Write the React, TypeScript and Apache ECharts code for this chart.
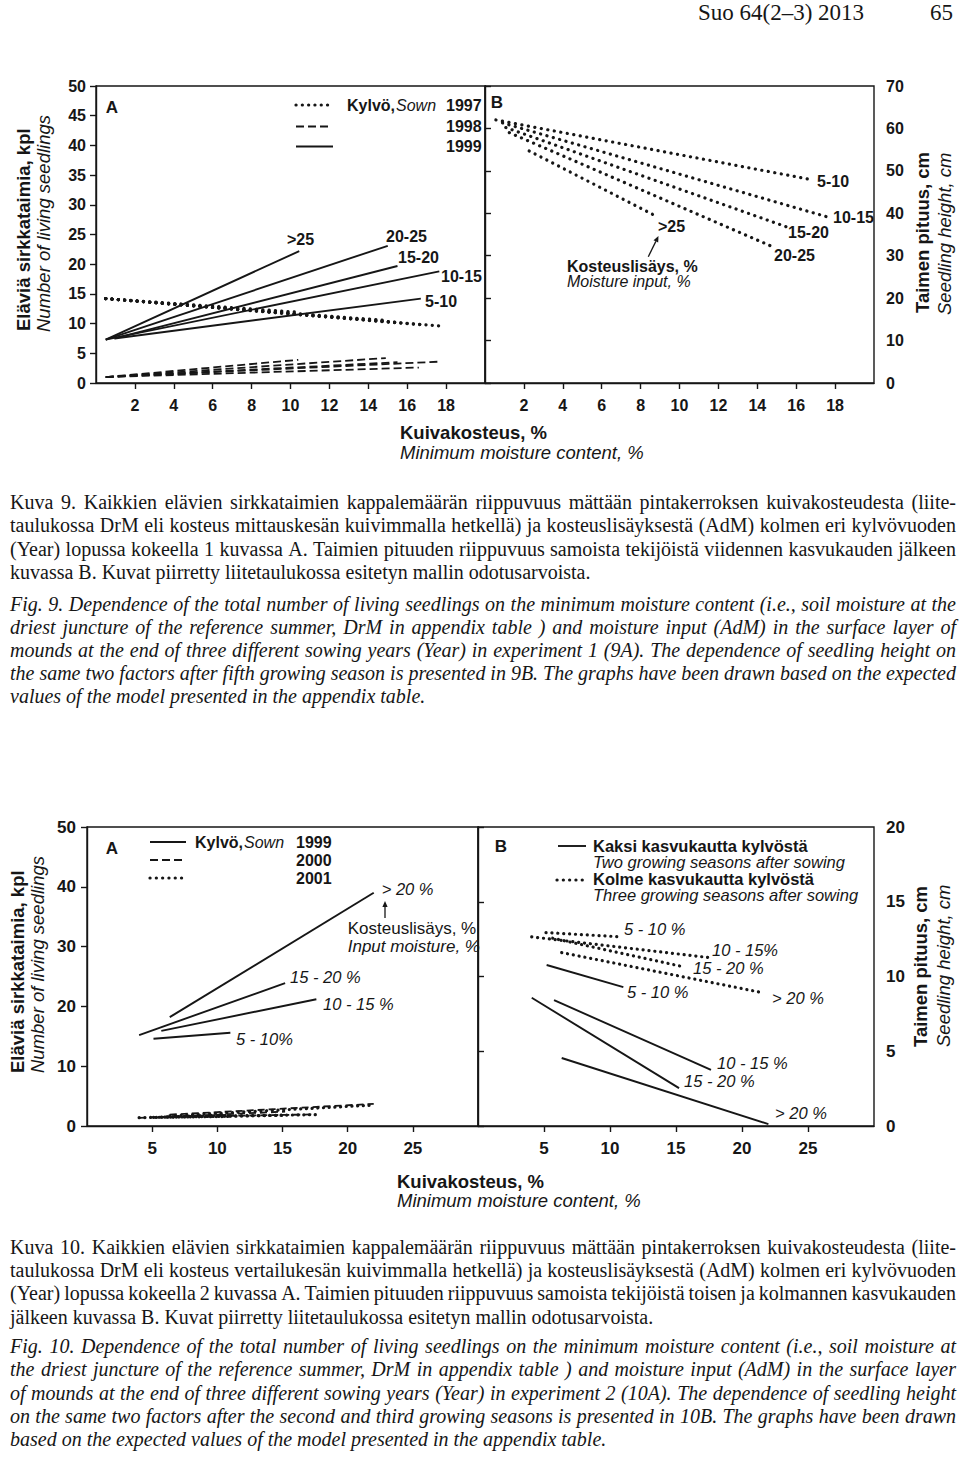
import React, { useEffect, useRef } from 'react';
import * as echarts from 'echarts';

// ---------------- Data ----------------
// Figure 9, panel A: x = minimum moisture content (%), y = number of living seedlings
const fig9XTicks = [0, 2, 4, 6, 8, 10, 12, 14, 16, 18, 20];
const fig9AYTicks = [0, 5, 10, 15, 20, 25, 30, 35, 40, 45, 50];
const fig9BYTicks = [0, 10, 20, 30, 40, 50, 60, 70];
const fig9Classes = ['>25', '20-25', '15-20', '10-15', '5-10'];
const fig9Years = ['1997', '1998', '1999'];

// sown 1999 (solid), order of fig9Classes
const f9A_1999 = [
  [[0.5, 7.3], [10.45, 22.2]],
  [[0.5, 7.3], [15.0, 23.1]],
  [[0.95, 7.5], [15.5, 19.7]],
  [[0.5, 7.3], [17.65, 18.8]],
  [[0.95, 7.5], [16.7, 14.2]],
];
// sown 1998 (dashed)
const f9A_1998 = [
  [[0.5, 1.0], [10.4, 3.9]],
  [[0.5, 1.0], [14.9, 4.2]],
  [[0.5, 1.0], [15.5, 3.5]],
  [[0.5, 1.0], [17.7, 3.6]],
  [[0.5, 1.0], [16.6, 2.6]],
];
// sown 1997 (dotted)
const f9A_1997 = [
  [[0.5, 14.2], [10.45, 11.9]],
  [[0.5, 14.2], [15.0, 10.5]],
  [[0.5, 14.2], [15.5, 10.2]],
  [[0.5, 14.2], [17.65, 9.6]],
  [[0.5, 14.2], [16.7, 9.8]],
];
// Figure 9, panel B: seedling height (cm) after fifth growing season
const f9B_height = [
  [[2.27, 54.7], [8.85, 39.2]],
  [[1.25, 59.0], [14.8, 32.1]],
  [[1.07, 60.2], [15.5, 36.8]],
  [[0.9, 61.3], [17.56, 39.2]],
  [[0.56, 62.0], [16.7, 48.0]],
];

// Figure 10
const fig10XTicks = [0, 5, 10, 15, 20, 25, 30];
const fig10AYTicks = [0, 10, 20, 30, 40, 50];
const fig10BYTicks = [0, 5, 10, 15, 20];
const fig10Classes = ['> 20 %', '15 - 20 %', '10 - 15 %', '5 - 10 %'];
const fig10Years = ['1999', '2000', '2001'];

// panel A, sown 1999 (solid), order of fig10Classes
const f10A_1999 = [
  [[6.35, 18.2], [22.0, 39.0]],
  [[4.0, 15.2], [15.2, 23.9]],
  [[5.7, 15.9], [17.6, 21.2]],
  [[5.1, 14.6], [11.0, 15.6]],
];
// sown 2000 (dashed)
const f10A_2000 = [
  [[6.35, 1.9], [22.0, 3.7]],
  [[4.0, 1.35], [15.2, 2.4]],
  [[5.7, 1.5], [17.6, 1.95]],
  [[5.1, 1.4], [11.0, 1.9]],
];
// sown 2001 (dotted)
const f10A_2001 = [
  [[6.35, 1.7], [22.0, 3.5]],
  [[4.0, 1.4], [15.2, 1.8]],
  [[5.7, 1.5], [17.6, 1.9]],
  [[5.1, 1.45], [11.0, 1.6]],
];
// panel B: two growing seasons after sowing (solid)
const f10B_two = [
  [[6.34, 4.55], [22.0, 0.13]],
  [[4.07, 8.58], [15.23, 2.53]],
  [[5.76, 8.42], [17.65, 3.76]],
  [[5.2, 10.77], [11.01, 9.29]],
];
// three growing seasons after sowing (dotted)
const f10B_three = [
  [[6.34, 11.6], [21.6, 8.91]],
  [[5.66, 12.56], [15.3, 10.7]],
  [[4.07, 12.65], [17.45, 11.27]],
  [[5.15, 12.94], [10.88, 12.65]],
];

// Captions
const kuva9 = [
  'Kuva 9. Kaikkien elävien sirkkataimien kappalemäärän riippuvuus mättään pintakerroksen kuivakosteudesta (liite-',
  'taulukossa DrM eli kosteus mittauskesän kuivimmalla hetkellä) ja kosteuslisäyksestä (AdM) kolmen eri kylvövuoden',
  '(Year) lopussa kokeella 1 kuvassa A. Taimien pituuden riippuvuus samoista tekijöistä viidennen kasvukauden jälkeen',
  'kuvassa B. Kuvat piirretty liitetaulukossa esitetyn mallin odotusarvoista.',
];
const fig9Caption = [
  'Fig. 9. Dependence of the total number of living seedlings on the minimum moisture content (i.e., soil moisture at the',
  'driest juncture of the reference summer, DrM in appendix table ) and moisture input (AdM) in the surface layer of',
  'mounds at the end of three different sowing years (Year) in experiment 1 (9A). The dependence of seedling height on',
  'the same two factors after fifth growing season is presented in 9B. The graphs have been drawn based on the expected',
  'values of the model presented in the appendix table.',
];
const kuva10 = [
  'Kuva 10. Kaikkien elävien sirkkataimien kappalemäärän riippuvuus mättään pintakerroksen kuivakosteudesta (liite-',
  'taulukossa DrM eli kosteus vertailukesän kuivimmalla hetkellä) ja kosteuslisäyksestä (AdM) kolmen eri kylvövuoden',
  '(Year) lopussa kokeella 2 kuvassa A. Taimien pituuden riippuvuus samoista tekijöistä toisen ja kolmannen kasvukauden',
  'jälkeen kuvassa B. Kuvat piirretty liitetaulukossa esitetyn mallin odotusarvoista.',
];
const fig10Caption = [
  'Fig. 10. Dependence of the total number of living seedlings on the minimum moisture content (i.e., soil moisture at',
  'the driest juncture of the reference summer, DrM in appendix table ) and moisture input (AdM) in the surface layer',
  'of mounds at the end of three different sowing years (Year) in experiment 2 (10A). The dependence of seedling height',
  'on the same two factors after the second and third growing seasons is presented in 10B. The graphs have been drawn',
  'based on the expected values of the model presented in the appendix table.',
];

// ---------------- Styles ----------------
const INK = '#161616';
const SANS = '"Liberation Sans", Arial, sans-serif';
const SERIF = '"Liberation Serif", "Times New Roman", serif';
const CAP_LEFT = 10;
const CAP_RIGHT = 956;
const CAP_SIZE = 20;
const DOT_W = 3.2;

let measureCtx: CanvasRenderingContext2D | null = null;
function measure(text: string, font: string): number {
  if (!measureCtx) measureCtx = document.createElement('canvas').getContext('2d');
  measureCtx!.font = font;
  return measureCtx!.measureText(text).width;
}

function txt(x: number, y: number, text: string, o: any = {}) {
  return {
    type: 'text',
    x,
    y,
    rotation: o.rotation || 0,
    z: 100,
    silent: true,
    style: {
      text,
      fontFamily: o.family || SANS,
      fontSize: o.size || 16,
      fontWeight: o.weight || 'normal',
      fontStyle: o.style || 'normal',
      fill: INK,
      align: o.align || 'left',
      verticalAlign: o.valign || 'middle',
    },
  };
}

function captionLine(text: string, y: number, italic: boolean, justify: boolean) {
  const fontStyle = italic ? 'italic' : 'normal';
  if (!justify) {
    return [txt(CAP_LEFT, y, text, { family: SERIF, size: CAP_SIZE, style: fontStyle })];
  }
  const font = `${italic ? 'italic ' : ''}${CAP_SIZE}px "Liberation Serif"`;
  const words = text.split(' ');
  const widths = words.map((w) => measure(w, font));
  const total = widths.reduce((a, b) => a + b, 0);
  const gap = (CAP_RIGHT - CAP_LEFT - total) / (words.length - 1);
  let x = CAP_LEFT;
  return words.map((w, i) => {
    const el = txt(x, y, w, { family: SERIF, size: CAP_SIZE, style: fontStyle });
    x += widths[i] + gap;
    return el;
  });
}

function caption(lines: string[], y0: number, step: number, italic: boolean) {
  const out: any[] = [];
  lines.forEach((l, i) => {
    out.push(...captionLine(l, y0 + i * step, italic, i < lines.length - 1));
  });
  return out;
}

function seg(x1: number, y1: number, x2: number, y2: number, kind: string) {
  const style: any = { stroke: INK, lineWidth: 1.9, lineCap: 'butt' };
  if (kind === 'dash') { style.lineDash = [8, 4]; style.lineWidth = 1.8; }
  if (kind === 'dot') { style.lineDash = [0.1, 6.2]; style.lineWidth = DOT_W; style.lineCap = 'round'; }
  return { type: 'line', z: 100, silent: true, shape: { x1, y1, x2, y2 }, style };
}

function arrow(x1: number, y1: number, x2: number, y2: number) {
  const dx = x2 - x1, dy = y2 - y1;
  const len = Math.hypot(dx, dy);
  const ux = dx / len, uy = dy / len;
  const px = -uy, py = ux;
  const bx = x2 - ux * 6, by = y2 - uy * 6;
  return [
    { type: 'line', z: 100, silent: true, shape: { x1, y1, x2: bx, y2: by }, style: { stroke: INK, lineWidth: 1.3 } },
    {
      type: 'polygon', z: 100, silent: true,
      shape: { points: [[x2, y2], [bx + px * 2.6, by + py * 2.6], [bx - px * 2.6, by - py * 2.6]] },
      style: { fill: INK },
    },
  ];
}

function axisCommon(fontSize: number) {
  return {
    axisLine: { show: true, lineStyle: { color: INK, width: 1.4 } },
    axisTick: { show: true, inside: false, length: 6, lineStyle: { color: INK, width: 1.4 } },
    splitLine: { show: false },
    axisLabel: { color: INK, fontFamily: SANS, fontWeight: 'bold', fontSize },
  };
}

function lineSeries(name: string, data: number[][], grid: number, kind: string, dotGap = 6) {
  const ls: any = { color: INK, width: 1.9, type: 'solid' };
  if (kind === 'dash') { ls.type = [8, 4]; ls.width = 1.8; }
  if (kind === 'dash10') { ls.type = [7, 4]; ls.width = 1.8; }
  if (kind === 'dot') { ls.type = [0.1, dotGap]; ls.width = DOT_W; ls.cap = 'round'; }
  return {
    name,
    type: 'line',
    xAxisIndex: grid,
    yAxisIndex: grid,
    data,
    showSymbol: false,
    symbol: 'none',
    silent: true,
    lineStyle: ls,
  };
}

export default function App() {
  const ref = useRef<HTMLDivElement>(null);

  useEffect(() => {
    if (!ref.current) return;
    const chart = echarts.init(ref.current, undefined, { renderer: 'svg' });

    const series: any[] = [];
    fig9Classes.forEach((c, i) => {
      series.push(lineSeries(`${fig9Years[2]} ${c}`, f9A_1999[i], 0, 'solid'));
      series.push(lineSeries(`${fig9Years[1]} ${c}`, f9A_1998[i], 0, 'dash'));
      series.push(lineSeries(`${fig9Years[0]} ${c}`, f9A_1997[i], 0, 'dot', 6.2));
      series.push(lineSeries(`B ${c}`, f9B_height[i], 1, 'dot', 6.5));
    });
    fig10Classes.forEach((c, i) => {
      series.push(lineSeries(`${fig10Years[0]} ${c}`, f10A_1999[i], 2, 'solid'));
      series.push(lineSeries(`${fig10Years[1]} ${c}`, f10A_2000[i], 2, 'dash10'));
      series.push(lineSeries(`${fig10Years[2]} ${c}`, f10A_2001[i], 2, 'dot', 5.6));
      series.push(lineSeries(`B2 ${c}`, f10B_two[i], 3, 'solid'));
      series.push(lineSeries(`B3 ${c}`, f10B_three[i], 3, 'dot', 5.8));
    });

    const B = { weight: 'bold' };
    const I = { style: 'italic' };
    const ROT = Math.PI / 2;

    const graphics: any[] = [
      // header
      txt(698, 12, 'Suo 64(2–3) 2013', { family: SERIF, size: 23 }),
      txt(930, 12, '65', { family: SERIF, size: 23 }),

      // ---- Figure 9 ----
      txt(112, 107, 'A', { ...B, size: 17, align: 'center' }),
      seg(296, 105, 330, 105, 'dot'),
      seg(296, 126.5, 330, 126.5, 'dash'),
      seg(296, 146.5, 333, 146.5, 'solid'),
      txt(347, 105, 'Kylvö,', { ...B, size: 16 }),
      txt(396, 105, 'Sown', { ...I, size: 16 }),
      txt(446, 105, fig9Years[0], { ...B, size: 16 }),
      txt(446, 126, fig9Years[1], { ...B, size: 16 }),
      txt(446, 146, fig9Years[2], { ...B, size: 16 }),
      txt(287, 239, fig9Classes[0], { ...B, size: 16 }),
      txt(386, 236, fig9Classes[1], { ...B, size: 16 }),
      txt(398, 257, fig9Classes[2], { ...B, size: 16 }),
      txt(441, 276.5, fig9Classes[3], { ...B, size: 16 }),
      txt(425, 301, fig9Classes[4], { ...B, size: 16 }),
      txt(497, 102, 'B', { ...B, size: 17, align: 'center' }),
      txt(817, 181, fig9Classes[4], { ...B, size: 16 }),
      txt(833, 217.5, fig9Classes[3], { ...B, size: 16 }),
      txt(788, 232.5, fig9Classes[2], { ...B, size: 16 }),
      txt(774, 255.5, fig9Classes[1], { ...B, size: 16 }),
      txt(658, 226, fig9Classes[0], { ...B, size: 16 }),
      ...arrow(648.3, 256.7, 658.5, 236),
      txt(567, 266, 'Kosteuslisäys, %', { ...B, size: 16 }),
      txt(567, 281.5, 'Moisture input, %', { ...I, size: 16 }),
      txt(23, 331, 'Eläviä sirkkataimia, kpl', { ...B, size: 18.5, rotation: ROT }),
      txt(43, 332, 'Number of living seedlings', { ...I, size: 18.5, rotation: ROT }),
      txt(922.5, 313, 'Taimen pituus, cm', { ...B, size: 18.5, rotation: ROT }),
      txt(944.5, 315, 'Seedling height, cm', { ...I, size: 18.5, rotation: ROT }),
      txt(400, 432, 'Kuivakosteus, %', { ...B, size: 18.5 }),
      txt(400, 452, 'Minimum moisture content, %', { ...I, size: 18.5 }),

      // ---- Figure 10 ----
      txt(112, 848, 'A', { ...B, size: 17, align: 'center' }),
      seg(150, 842, 186, 842, 'solid'),
      seg(150, 860, 183, 860, 'dash'),
      seg(150, 878, 183, 878, 'dot'),
      txt(195, 842, 'Kylvö,', { ...B, size: 16 }),
      txt(244, 842, 'Sown', { ...I, size: 16 }),
      txt(296, 842, fig10Years[0], { ...B, size: 16 }),
      txt(296, 860, fig10Years[1], { ...B, size: 16 }),
      txt(296, 878, fig10Years[2], { ...B, size: 16 }),
      txt(381.7, 888.5, fig10Classes[0], { ...I, size: 16.5 }),
      ...arrow(385, 918, 385, 901),
      txt(347.7, 928, 'Kosteuslisäys, %', { size: 17 }),
      txt(347.7, 946.5, 'Input moisture, %', { ...I, size: 17 }),
      txt(290, 976.5, fig10Classes[1], { ...I, size: 16.5 }),
      txt(323, 1003.5, fig10Classes[2], { ...I, size: 16.5 }),
      txt(236, 1039, '5 - 10%', { ...I, size: 16.5 }),

      txt(501, 846, 'B', { ...B, size: 17, align: 'center' }),
      seg(558, 846, 586, 846, 'solid'),
      seg(557, 880, 586, 880, 'dot'),
      txt(593, 846, 'Kaksi kasvukautta kylvöstä', { ...B, size: 16.5 }),
      txt(593, 862, 'Two growing seasons after sowing', { ...I, size: 16.5 }),
      txt(593, 879, 'Kolme kasvukautta kylvöstä', { ...B, size: 16.5 }),
      txt(593, 895, 'Three growing seasons after sowing', { ...I, size: 16.5 }),
      txt(624, 929, fig10Classes[3], { ...I, size: 16.5 }),
      txt(712, 950, '10 - 15%', { ...I, size: 16.5 }),
      txt(693, 968, fig10Classes[1], { ...I, size: 16.5 }),
      txt(772, 998, fig10Classes[0], { ...I, size: 16.5 }),
      txt(627, 992, fig10Classes[3], { ...I, size: 16.5 }),
      txt(717, 1063, '10 - 15 %', { ...I, size: 16.5 }),
      txt(684, 1080.5, '15 - 20 %', { ...I, size: 16.5 }),
      txt(775, 1113, fig10Classes[0], { ...I, size: 16.5 }),
      txt(17, 1073, 'Eläviä sirkkataimia, kpl', { ...B, size: 18.5, rotation: ROT }),
      txt(37.5, 1073, 'Number of living seedlings', { ...I, size: 18.5, rotation: ROT }),
      txt(920.5, 1047, 'Taimen pituus, cm', { ...B, size: 18.5, rotation: ROT }),
      txt(943, 1047, 'Seedling height, cm', { ...I, size: 18.5, rotation: ROT }),
      txt(397, 1181, 'Kuivakosteus, %', { ...B, size: 18.5 }),
      txt(397, 1200, 'Minimum moisture content, %', { ...I, size: 18.5 }),

      // captions
      ...caption(kuva9, 502, 23.3, false),
      ...caption(fig9Caption, 604, 23.1, true),
      ...caption(kuva10, 1247, 23.2, false),
      ...caption(fig10Caption, 1346, 23.3, true),
    ];

    const gridBase = { show: true, borderColor: INK, borderWidth: 1.4, containLabel: false, outerBoundsMode: 'none' };

    const option: any = {
      animation: false,
      backgroundColor: '#ffffff',
      grid: [
        { ...gridBase, left: 96, top: 86, width: 389, height: 297 },
        { ...gridBase, left: 485, top: 86, width: 389, height: 297 },
        { ...gridBase, left: 87, top: 827, width: 391, height: 299 },
        { ...gridBase, left: 478, top: 827, width: 396, height: 299 },
      ],
      xAxis: [
        {
          gridIndex: 0, type: 'value', min: fig9XTicks[0], max: fig9XTicks[fig9XTicks.length - 1], interval: fig9XTicks[1] - fig9XTicks[0],
          ...axisCommon(16),
          axisLabel: { ...axisCommon(16).axisLabel, margin: 14, showMinLabel: false, showMaxLabel: false },
        },
        {
          gridIndex: 1, type: 'value', min: fig9XTicks[0], max: fig9XTicks[fig9XTicks.length - 1], interval: fig9XTicks[1] - fig9XTicks[0],
          ...axisCommon(16),
          axisLabel: { ...axisCommon(16).axisLabel, margin: 14, showMinLabel: false, showMaxLabel: false },
        },
        {
          gridIndex: 2, type: 'value', min: fig10XTicks[0], max: fig10XTicks[fig10XTicks.length - 1], interval: fig10XTicks[1] - fig10XTicks[0],
          ...axisCommon(17),
          axisLabel: { ...axisCommon(17).axisLabel, margin: 13.5, showMinLabel: false, showMaxLabel: false },
        },
        {
          gridIndex: 3, type: 'value', min: fig10XTicks[0], max: fig10XTicks[fig10XTicks.length - 1], interval: fig10XTicks[1] - fig10XTicks[0],
          ...axisCommon(17),
          axisLabel: { ...axisCommon(17).axisLabel, margin: 13.5, showMinLabel: false, showMaxLabel: false },
        },
      ],
      yAxis: [
        {
          gridIndex: 0, type: 'value', position: 'left', min: fig9AYTicks[0], max: fig9AYTicks[fig9AYTicks.length - 1], interval: fig9AYTicks[1] - fig9AYTicks[0],
          ...axisCommon(16),
          axisLabel: { ...axisCommon(16).axisLabel, margin: 10 },
        },
        {
          gridIndex: 1, type: 'value', position: 'right', min: fig9BYTicks[0], max: fig9BYTicks[fig9BYTicks.length - 1], interval: fig9BYTicks[1] - fig9BYTicks[0],
          ...axisCommon(16),
          axisLabel: { ...axisCommon(16).axisLabel, margin: 12 },
        },
        {
          gridIndex: 2, type: 'value', position: 'left', min: fig10AYTicks[0], max: fig10AYTicks[fig10AYTicks.length - 1], interval: fig10AYTicks[1] - fig10AYTicks[0],
          ...axisCommon(17),
          axisLabel: { ...axisCommon(17).axisLabel, margin: 11 },
        },
        {
          gridIndex: 3, type: 'value', position: 'right', min: fig10BYTicks[0], max: fig10BYTicks[fig10BYTicks.length - 1], interval: fig10BYTicks[1] - fig10BYTicks[0],
          ...axisCommon(17),
          axisLabel: { ...axisCommon(17).axisLabel, margin: 12 },
        },
      ],
      series,
      graphic: graphics,
    };

    chart.setOption(option);
    return () => chart.dispose();
  }, []);

  return (
    <div
      ref={ref}
      style={{ position: 'absolute', left: 0, top: 0, width: 960, height: 1458, background: '#fff' }}
    />
  );
}
